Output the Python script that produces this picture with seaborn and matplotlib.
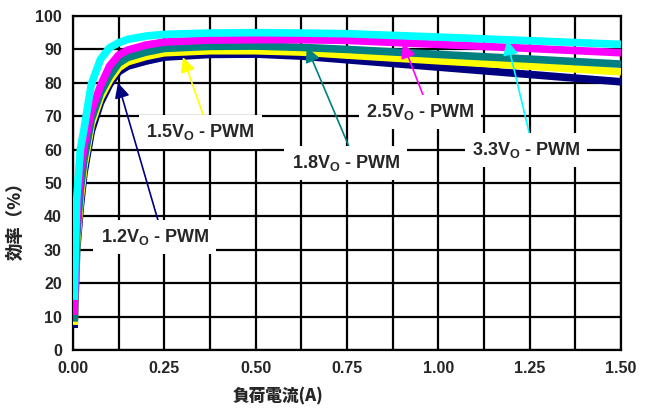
import numpy as np
import pandas as pd
import matplotlib
matplotlib.use("Agg")
import matplotlib.pyplot as plt
import seaborn as sns

# ---- data ----
current = [0.003, 0.01, 0.02, 0.03, 0.05, 0.075, 0.1, 0.125, 0.15, 0.2, 0.25,
           0.375, 0.5, 0.625, 0.75, 1.0, 1.25, 1.5]
eff_3v3 = [15, 45, 60, 66, 79.5, 87, 90.5, 92.0, 93.0, 94.0, 94.5, 94.9, 95.0, 94.9, 94.7, 93.7, 92.6, 91.5]
eff_2v5 = [10.5, 38, 53, 61, 71.5, 79, 85.0, 88.3, 89.8, 91.3, 92.2, 92.8, 92.9, 92.9, 92.7, 91.5, 90.3, 89.0]
eff_1v8 = [8.5, 34, 48, 57, 69, 77, 82.0, 85.9, 87.6, 89.2, 90.3, 90.9, 91.0, 90.6, 90.0, 88.5, 87.1, 85.6]
eff_1v5 = [7.5, 32, 45.5, 55, 67.5, 75.5, 80.7, 84.5, 86.3, 87.9, 89.0, 89.6, 89.6, 89.2, 88.3, 86.6, 85.0, 83.3]
eff_1v2 = [6.6, 30, 43, 53, 65.5, 74, 79.5, 83.3, 85.0, 86.5, 87.7, 88.5, 88.6, 88.0, 86.9, 84.7, 82.5, 80.3]

series_names = ["1.2", "1.5", "1.8", "2.5", "3.3"]
series_vals = [eff_1v2, eff_1v5, eff_1v8, eff_2v5, eff_3v3]
colors = ["#000080", "#FFFF00", "#008080", "#FF00FF", "#00FFFF"]

x_ticks = [0.0, 0.25, 0.5, 0.75, 1.0, 1.25, 1.5]
y_ticks = list(range(0, 101, 10))

# annotation (label text pos, arrow tip) in data coords
ann_series = ["1.5", "1.2", "1.8", "2.5", "3.3"]
ann_text_xy = [(0.348, 65.3), (0.224, 33.8), (0.747, 56.0), (0.95, 71.3), (1.24, 59.9)]
ann_tip_xy = [(0.301, 87.7), (0.123, 80.0), (0.64, 90.7), (0.903, 91.9), (1.188, 92.8)]

rows = []
for name, vals in zip(series_names, series_vals):
    for cx, v in zip(current, vals):
        rows.append({"current": cx, "eff": v, "series": name})
df = pd.DataFrame(rows)

sns.set_style("white")
plt.rcParams['font.family'] = ['Liberation Sans', 'Noto Sans CJK JP', 'DejaVu Sans']
plt.rcParams['mathtext.fontset'] = 'custom'
plt.rcParams['mathtext.rm'] = 'Liberation Sans:bold'
plt.rcParams['mathtext.bf'] = 'Liberation Sans:bold'
plt.rcParams['mathtext.it'] = 'Liberation Sans:bold'

fig = plt.figure(figsize=(6.45, 4.12), dpi=100)
ax = fig.add_axes([73/645, 1-350/412, (621-73)/645, (350-16)/412])

ax.set_xlim(0, 1.5)
ax.set_ylim(0, 100)
ax.set_xticks(x_ticks)
ax.set_xticks(np.arange(0.125, 1.5, 0.25), minor=True)
ax.set_yticks(y_ticks)
ax.grid(True, which='both', color='black', linewidth=1.6)
ax.set_axisbelow(True)
for s in ax.spines.values():
    s.set_color('black')
    s.set_linewidth(1.6)

sns.lineplot(data=df, x="current", y="eff", hue="series", hue_order=series_names,
             palette=colors, linewidth=5.5, legend=False, ax=ax, zorder=3)
for ln in ax.lines:
    ln.set_solid_capstyle('butt')
    ln.set_solid_joinstyle('round')

ax.set_xticklabels([f"{t:.2f}" for t in x_ticks], fontweight='bold', fontsize=11.5)
ax.set_yticklabels([str(t) for t in y_ticks], fontweight='bold', fontsize=11.5)
ax.tick_params(axis='both', which='both', length=0, pad=8)

ax.set_xlabel("負荷電流(A)", fontweight='heavy', fontsize=12,
              family=['Noto Sans CJK JP', 'Liberation Sans'])
ax.set_ylabel("効率（%）", fontweight='heavy', fontsize=12.5,
              family=['Noto Sans CJK JP', 'Liberation Sans'])
ax.xaxis.set_label_coords(0.374, -0.108)
ax.yaxis.set_label_coords(-0.088, 0.40)

color_map = dict(zip(series_names, colors))
for name, txy, tip in zip(ann_series, ann_text_xy, ann_tip_xy):
    c = color_map[name]
    ax.annotate("", xy=tip, xytext=(txy[0] + 0.01, txy[1] + 4.5),
                arrowprops=dict(arrowstyle="-|>,head_length=0.9,head_width=0.45",
                                color=c, lw=1.2, shrinkA=0, shrinkB=0),
                zorder=5)
    ax.text(txy[0], txy[1], f"{name}V$_\\mathregular{{O}}$ - PWM", ha='center', va='center',
            fontsize=13, fontweight='bold', zorder=6,
            bbox=dict(boxstyle='square,pad=0.4', fc='white', ec='none'))

fig.savefig("out.png", dpi=100)
